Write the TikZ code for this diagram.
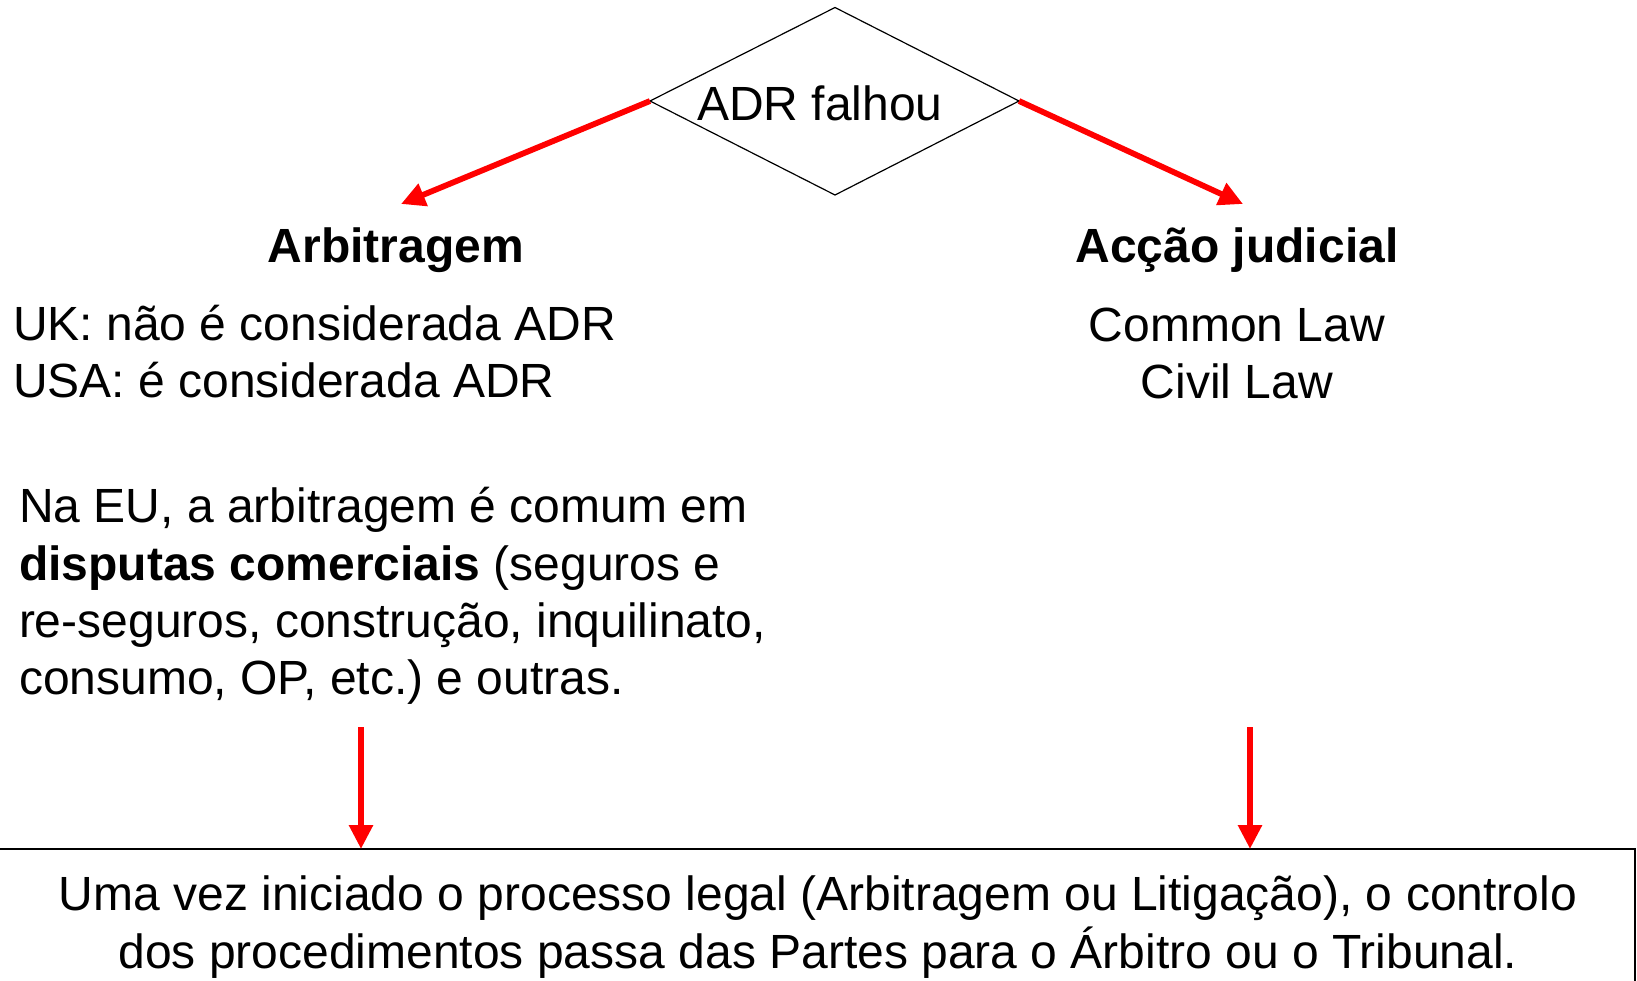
\documentclass[tikz,border=0pt]{standalone}
\usepackage{fontspec}
\setmainfont{Liberation Sans}
\usetikzlibrary{arrows.meta}
\frenchspacing
\begin{document}
\begin{tikzpicture}[x=0.5pt,y=-0.5pt,
  txt/.style={inner sep=0pt, outer sep=0pt, font=\fontsize{24}{28.5}\selectfont},
  redarrow/.style={draw=red, line width=2.9pt, -{Triangle[length=12pt,width=11.5pt]}},
  thinline/.style={draw=black, line width=0.6pt},
  boxstyle/.style={draw=black, line width=1.2pt, rectangle, inner sep=0pt, outer sep=0pt}]
\useasboundingbox (0,0) rectangle (1637,980);
\begin{scope}
\clip (0,0) rectangle (1637,980);
% diamond
\coordinate (dT) at (835,7.5);
\coordinate (dL) at (650,101);
\coordinate (dR) at (1019,101);
\coordinate (dB) at (835,195);
\draw[thinline] (dT) -- (dR) -- (dB) -- (dL) -- cycle;
\node[txt, anchor=base] (adr) at (820,120) {ADR falhou};
% left column
\node[txt, anchor=base] (arb) at (396,262) {\bfseries Arbitragem};
\node[txt, anchor=base west] (uk) at (13,340) {UK: não é considerada ADR};
\node[txt, anchor=base west] (usa) at (13,397) {USA: é considerada ADR};
\node[txt, anchor=base west] (p1) at (19,522) {Na EU, a arbitragem é comum em};
\node[txt, anchor=base west] (p2) at (19,580) {\textbf{disputas comerciais} (seguros e};
\node[txt, anchor=base west] (p3) at (19,637) {re-seguros, construção, inquilinato,};
\node[txt, anchor=base west] (p4) at (19,694) {consumo, OP, etc.) e outras.};
% right column
\node[txt, anchor=base] (acc) at (1237,262) {\bfseries Acção judicial};
\node[txt, anchor=base] (cl) at (1237,341) {Common Law};
\node[txt, anchor=base] (cv) at (1237,398) {Civil Law};
% arrows from diamond
\coordinate (tL) at (401,204);
\coordinate (tR) at (1243,204);
\draw[redarrow] (dL) -- (tL);
\draw[redarrow] (dR) -- (tR);
% bottom box
\coordinate (boxNW) at (-4,849);
\node[boxstyle, minimum width=819.5pt, minimum height=80.5pt, anchor=north west] (box) at (boxNW) {};
\node[txt, anchor=base] (b1) at (818,910) {Uma vez iniciado o processo legal (Arbitragem ou Litigação), o controlo};
\node[txt, anchor=base] (b2) at (818,968) {dos procedimentos passa das Partes para o Árbitro ou o Tribunal.};
% vertical arrows
\coordinate (vL) at (361,727);
\coordinate (vR) at (1250,727);
\draw[redarrow] (vL) -- (vL |- box.north);
\draw[redarrow] (vR) -- (vR |- box.north);
\end{scope}
\end{tikzpicture}
\end{document}
